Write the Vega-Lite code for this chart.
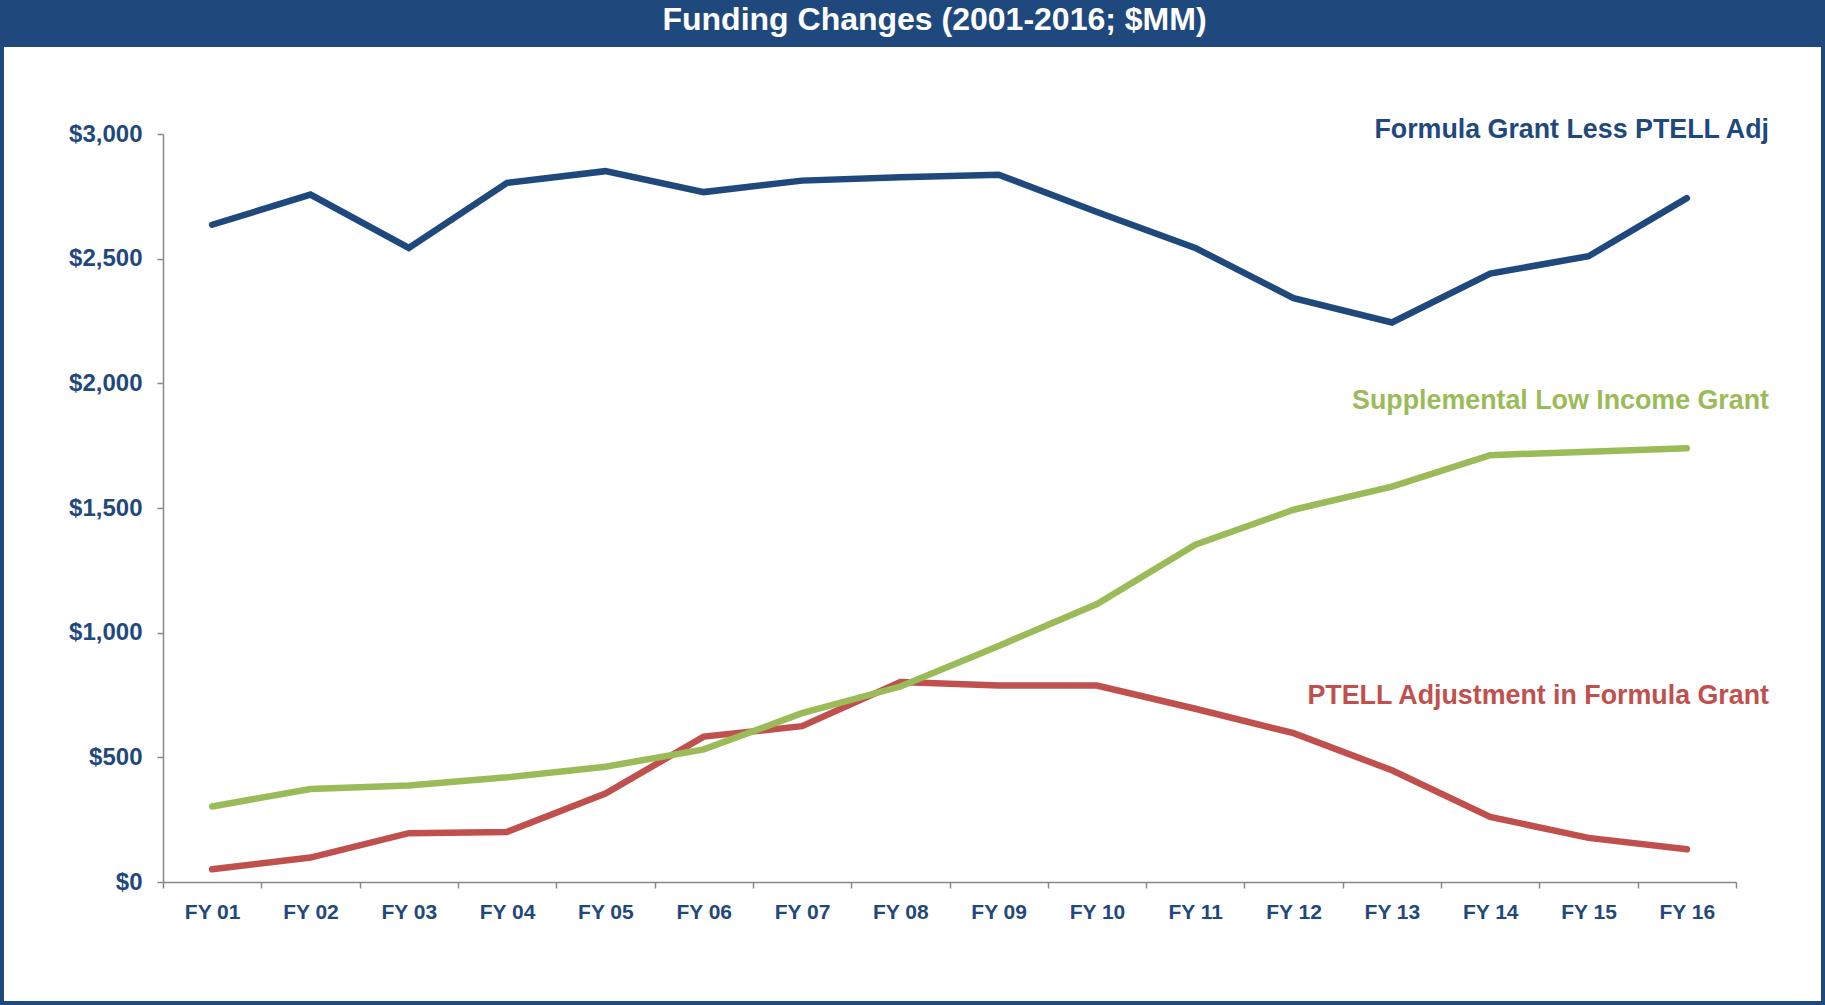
{
  "$schema": "https://vega.github.io/schema/vega-lite/v6.json",
  "autosize": {"type": "none"},
  "width": 1817,
  "height": 954,
  "padding": {"top": 47, "left": 4, "right": 4, "bottom": 4},
  "background": "#1F497D",
  "config": {
    "view": {"fill": "white", "stroke": null},
    "font": "Liberation Sans"
  },
  "title": {
    "text": "Funding Changes (2001-2016; $MM)",
    "color": "white",
    "fontSize": 32,
    "fontWeight": "bold",
    "font": "Liberation Sans",
    "anchor": "middle",
    "baseline": "alphabetic",
    "offset": 14,
    "dx": 22,
    "dy": 29
  },
  "datasets": {
    "series": [
      {"fy": "FY 01", "series": "Formula Grant Less PTELL Adj", "value": 2636},
      {"fy": "FY 02", "series": "Formula Grant Less PTELL Adj", "value": 2757},
      {"fy": "FY 03", "series": "Formula Grant Less PTELL Adj", "value": 2543},
      {"fy": "FY 04", "series": "Formula Grant Less PTELL Adj", "value": 2804},
      {"fy": "FY 05", "series": "Formula Grant Less PTELL Adj", "value": 2851},
      {"fy": "FY 06", "series": "Formula Grant Less PTELL Adj", "value": 2767},
      {"fy": "FY 07", "series": "Formula Grant Less PTELL Adj", "value": 2813},
      {"fy": "FY 08", "series": "Formula Grant Less PTELL Adj", "value": 2827},
      {"fy": "FY 09", "series": "Formula Grant Less PTELL Adj", "value": 2837},
      {"fy": "FY 10", "series": "Formula Grant Less PTELL Adj", "value": 2687},
      {"fy": "FY 11", "series": "Formula Grant Less PTELL Adj", "value": 2543},
      {"fy": "FY 12", "series": "Formula Grant Less PTELL Adj", "value": 2342},
      {"fy": "FY 13", "series": "Formula Grant Less PTELL Adj", "value": 2244},
      {"fy": "FY 14", "series": "Formula Grant Less PTELL Adj", "value": 2440},
      {"fy": "FY 15", "series": "Formula Grant Less PTELL Adj", "value": 2510},
      {"fy": "FY 16", "series": "Formula Grant Less PTELL Adj", "value": 2743},
      {"fy": "FY 01", "series": "PTELL Adjustment in Formula Grant", "value": 51},
      {"fy": "FY 02", "series": "PTELL Adjustment in Formula Grant", "value": 98},
      {"fy": "FY 03", "series": "PTELL Adjustment in Formula Grant", "value": 196},
      {"fy": "FY 04", "series": "PTELL Adjustment in Formula Grant", "value": 201},
      {"fy": "FY 05", "series": "PTELL Adjustment in Formula Grant", "value": 355},
      {"fy": "FY 06", "series": "PTELL Adjustment in Formula Grant", "value": 583},
      {"fy": "FY 07", "series": "PTELL Adjustment in Formula Grant", "value": 625},
      {"fy": "FY 08", "series": "PTELL Adjustment in Formula Grant", "value": 802},
      {"fy": "FY 09", "series": "PTELL Adjustment in Formula Grant", "value": 788},
      {"fy": "FY 10", "series": "PTELL Adjustment in Formula Grant", "value": 788},
      {"fy": "FY 11", "series": "PTELL Adjustment in Formula Grant", "value": 695},
      {"fy": "FY 12", "series": "PTELL Adjustment in Formula Grant", "value": 597},
      {"fy": "FY 13", "series": "PTELL Adjustment in Formula Grant", "value": 448},
      {"fy": "FY 14", "series": "PTELL Adjustment in Formula Grant", "value": 261},
      {"fy": "FY 15", "series": "PTELL Adjustment in Formula Grant", "value": 177},
      {"fy": "FY 16", "series": "PTELL Adjustment in Formula Grant", "value": 131},
      {"fy": "FY 01", "series": "Supplemental Low Income Grant", "value": 303},
      {"fy": "FY 02", "series": "Supplemental Low Income Grant", "value": 373},
      {"fy": "FY 03", "series": "Supplemental Low Income Grant", "value": 387},
      {"fy": "FY 04", "series": "Supplemental Low Income Grant", "value": 420},
      {"fy": "FY 05", "series": "Supplemental Low Income Grant", "value": 462},
      {"fy": "FY 06", "series": "Supplemental Low Income Grant", "value": 532},
      {"fy": "FY 07", "series": "Supplemental Low Income Grant", "value": 677},
      {"fy": "FY 08", "series": "Supplemental Low Income Grant", "value": 784},
      {"fy": "FY 09", "series": "Supplemental Low Income Grant", "value": 947},
      {"fy": "FY 10", "series": "Supplemental Low Income Grant", "value": 1115},
      {"fy": "FY 11", "series": "Supplemental Low Income Grant", "value": 1353},
      {"fy": "FY 12", "series": "Supplemental Low Income Grant", "value": 1493},
      {"fy": "FY 13", "series": "Supplemental Low Income Grant", "value": 1586},
      {"fy": "FY 14", "series": "Supplemental Low Income Grant", "value": 1712},
      {"fy": "FY 15", "series": "Supplemental Low Income Grant", "value": 1726},
      {"fy": "FY 16", "series": "Supplemental Low Income Grant", "value": 1740}
    ],
    "labels": [
      {"fy": "FY 16", "series": "Formula Grant Less PTELL Adj", "value": 3015},
      {"fy": "FY 16", "series": "Supplemental Low Income Grant", "value": 1928},
      {"fy": "FY 16", "series": "PTELL Adjustment in Formula Grant", "value": 746}
    ]
  },
  "layer": [
    {
      "data": {"name": "series"},
      "mark": {"type": "line", "strokeWidth": 6.5, "strokeCap": "round", "strokeJoin": "miter"},
      "encoding": {
        "x": {
          "field": "fy", "type": "ordinal", "bandPosition": 0.5,
          "scale": {"type": "band", "range": [159, 1732], "paddingInner": 0, "paddingOuter": 0},
          "axis": {
            "title": null, "offset": -119, "tickBand": "extent", "tickSize": 6,
            "tickColor": "#898989", "tickWidth": 1.5, "domainColor": "#898989", "domainWidth": 1.5,
            "labelFontSize": 21, "labelFontWeight": "bold", "labelColor": "#1F497D",
            "labelFont": "Liberation Sans", "labelPadding": 13, "labelAngle": 0, "grid": false
          }
        },
        "y": {
          "field": "value", "type": "quantitative",
          "scale": {"domain": [0, 3000], "range": [835, 87], "nice": false},
          "axis": {
            "title": null, "offset": -159, "values": [0, 500, 1000, 1500, 2000, 2500, 3000],
            "format": "$,.0f", "tickSize": 6, "tickColor": "#898989", "tickWidth": 1.5,
            "domainColor": "#898989", "domainWidth": 1.5,
            "labelFontSize": 24, "labelFontWeight": "bold", "labelColor": "#1F497D",
            "labelFont": "Liberation Sans", "labelPadding": 15, "grid": false
          }
        },
        "color": {
          "field": "series", "type": "nominal", "legend": null,
          "scale": {
            "domain": ["Formula Grant Less PTELL Adj", "PTELL Adjustment in Formula Grant", "Supplemental Low Income Grant"],
            "range": ["#1F497D", "#C0504D", "#9BBB59"]
          }
        }
      }
    },
    {
      "data": {"name": "labels"},
      "mark": {"type": "text", "align": "right", "baseline": "middle", "dx": 33, "fontSize": 26.8, "fontWeight": "bold", "font": "Liberation Sans"},
      "encoding": {
        "x": {"field": "fy", "type": "ordinal", "bandPosition": 1},
        "y": {"field": "value", "type": "quantitative"},
        "text": {"field": "series"},
        "color": {"field": "series", "type": "nominal", "legend": null}
      }
    }
  ]
}
